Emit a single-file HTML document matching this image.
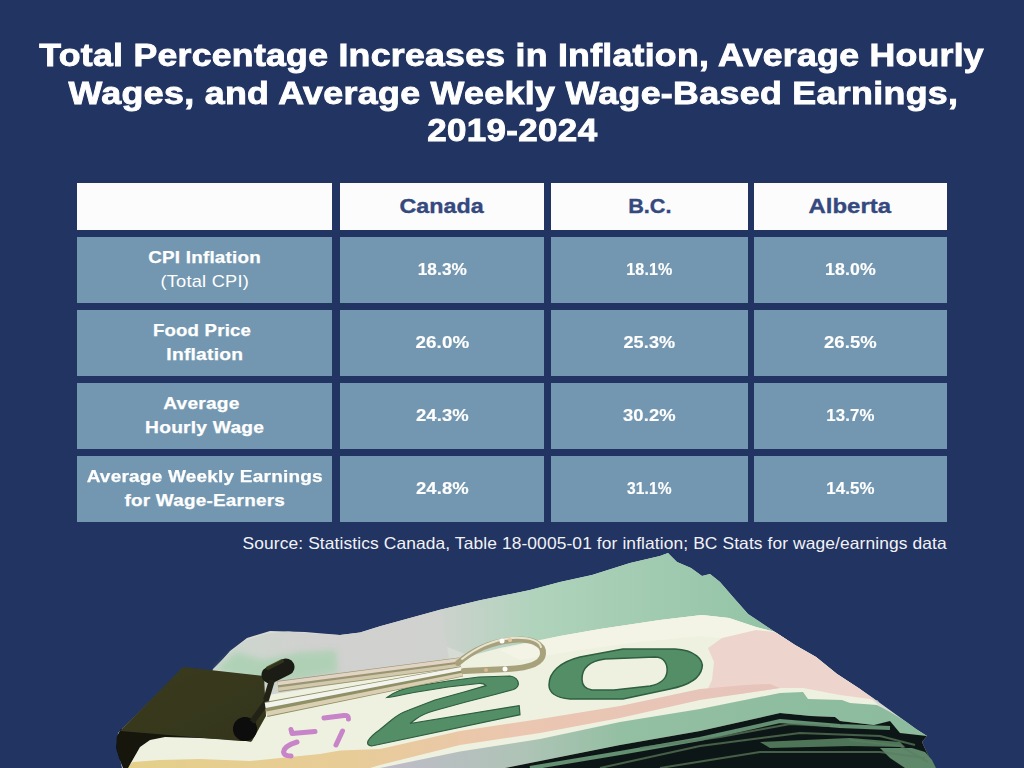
<!DOCTYPE html>
<html><head><meta charset="utf-8">
<style>
html,body{margin:0;padding:0;}
body{width:1024px;height:768px;overflow:hidden;background:#223461;position:relative;font-family:"Liberation Sans",sans-serif;}
.t{position:absolute;left:0;width:1024px;text-align:center;color:#fff;font-weight:700;font-size:32.2px;line-height:38px;white-space:nowrap;-webkit-text-stroke:0.9px #fff;}
.c{position:absolute;background:#7397b0;}
.h{position:absolute;background:#fcfcfc;}
.ht{position:absolute;left:0;right:0;text-align:center;color:#35497e;font-weight:700;font-size:21px;white-space:nowrap;-webkit-text-stroke:0.35px #35497e;}
.lt{position:absolute;left:0;right:0;text-align:center;color:#fff;font-weight:700;font-size:17px;white-space:nowrap;line-height:24px;-webkit-text-stroke:0.25px #fff;letter-spacing:0.2px;}
.v{position:absolute;left:0;right:0;text-align:center;color:#fff;font-weight:700;font-size:17px;white-space:nowrap;line-height:24px;-webkit-text-stroke:0.15px #fff;letter-spacing:0.1px;}
.vs{display:inline-block;}
.src{position:absolute;color:#f2f2f6;font-size:16.5px;white-space:nowrap;letter-spacing:0.1px;}
</style></head><body>
<div class="t" style="top:36px"><span style="display:inline-block;transform:scaleX(1.107);letter-spacing:0.25px">Total Percentage Increases in Inflation, Average Hourly</span></div>
<div class="t" style="top:74px;left:1px"><span style="display:inline-block;transform:scaleX(1.111);letter-spacing:0.3px">Wages, and Average Weekly Wage-Based Earnings,</span></div>
<div class="t" style="top:111px"><span style="display:inline-block;transform:scaleX(1.0865);letter-spacing:0.3px">2019-2024</span></div>

<!-- header row -->
<div class="h" style="left:77px;top:183px;width:255px;height:47px"></div>
<div class="h" style="left:340px;top:183px;width:204px;height:47px"><div class="ht" style="top:11px"><span class="vs" style="transform:translateX(-0.40px) scaleX(1.109)">Canada</span></div></div>
<div class="h" style="left:551px;top:183px;width:197px;height:47px"><div class="ht" style="top:11px"><span class="vs" style="transform:translateX(-0.20px) scaleX(1.032)">B.C.</span></div></div>
<div class="h" style="left:754px;top:183px;width:193px;height:47px"><div class="ht" style="top:11px"><span class="vs" style="transform:translateX(-0.40px) scaleX(1.140)">Alberta</span></div></div>

<!-- row 1 -->
<div class="c" style="left:77px;top:237px;width:255px;height:66px">
  <div class="lt" style="top:9px"><span class="vs" style="transform:translateX(-0.30px) scaleX(1.106)">CPI Inflation</span></div>
  <div class="lt" style="top:33px;font-weight:400;-webkit-text-stroke:0"><span class="vs" style="transform:translateX(0.50px) scaleX(1.073)">(Total CPI)</span></div>
</div>
<div class="c" style="left:340px;top:237px;width:204px;height:66px"><div class="v" style="top:21px"><span class="vs" style="transform:scaleX(1.015)">18.3%</span></div></div>
<div class="c" style="left:551px;top:237px;width:197px;height:66px"><div class="v" style="top:21px"><span class="vs" style="transform:scaleX(0.945)">18.1%</span></div></div>
<div class="c" style="left:754px;top:237px;width:193px;height:66px"><div class="v" style="top:21px"><span class="vs" style="transform:scaleX(1.044)">18.0%</span></div></div>

<!-- row 2 -->
<div class="c" style="left:77px;top:310px;width:255px;height:66px">
  <div class="lt" style="top:9px"><span class="vs" style="transform:translateX(-2.90px) scaleX(1.094)">Food Price</span></div>
  <div class="lt" style="top:33px"><span class="vs" style="transform:translateX(-0.20px) scaleX(1.131)">Inflation</span></div>
</div>
<div class="c" style="left:340px;top:310px;width:204px;height:66px"><div class="v" style="top:21px"><span class="vs" style="transform:scaleX(1.106)">26.0%</span></div></div>
<div class="c" style="left:551px;top:310px;width:197px;height:66px"><div class="v" style="top:21px"><span class="vs" style="transform:scaleX(1.064)">25.3%</span></div></div>
<div class="c" style="left:754px;top:310px;width:193px;height:66px"><div class="v" style="top:21px"><span class="vs" style="transform:scaleX(1.085)">26.5%</span></div></div>

<!-- row 3 -->
<div class="c" style="left:77px;top:383px;width:255px;height:66px">
  <div class="lt" style="top:9px"><span class="vs" style="transform:translateX(-3.50px) scaleX(1.127)">Average</span></div>
  <div class="lt" style="top:33px"><span class="vs" style="transform:translateX(-0.10px) scaleX(1.129)">Hourly Wage</span></div>
</div>
<div class="c" style="left:340px;top:383px;width:204px;height:66px"><div class="v" style="top:21px"><span class="vs" style="transform:scaleX(1.085)">24.3%</span></div></div>
<div class="c" style="left:551px;top:383px;width:197px;height:66px"><div class="v" style="top:21px"><span class="vs" style="transform:scaleX(1.082)">30.2%</span></div></div>
<div class="c" style="left:754px;top:383px;width:193px;height:66px"><div class="v" style="top:21px"><span class="vs" style="transform:scaleX(0.988)">13.7%</span></div></div>

<!-- row 4 -->
<div class="c" style="left:77px;top:456px;width:255px;height:66px">
  <div class="lt" style="top:9px"><span class="vs" style="transform:translateX(0.00px) scaleX(1.117)">Average Weekly Earnings</span></div>
  <div class="lt" style="top:33px"><span class="vs" style="transform:translateX(0.60px) scaleX(1.112)">for Wage-Earners</span></div>
</div>
<div class="c" style="left:340px;top:456px;width:204px;height:66px"><div class="v" style="top:21px"><span class="vs" style="transform:scaleX(1.085)">24.8%</span></div></div>
<div class="c" style="left:551px;top:456px;width:197px;height:66px"><div class="v" style="top:21px"><span class="vs" style="transform:scaleX(0.915)">31.1%</span></div></div>
<div class="c" style="left:754px;top:456px;width:193px;height:66px"><div class="v" style="top:21px"><span class="vs" style="transform:scaleX(0.992)">14.5%</span></div></div>

<div class="src" style="top:534px;left:0;right:0;text-align:center"><span class="vs" style="transform:translateX(82.60px) scaleX(1.054)">Source: Statistics Canada, Table 18-0005-01 for inflation; BC Stats for wage/earnings data</span></div>

<svg style="position:absolute;left:0;top:0" width="1024" height="768" viewBox="0 0 1024 768">
<defs>
<filter id="bl" x="-5%" y="-5%" width="110%" height="110%"><feGaussianBlur stdDeviation="0.7"/></filter>
<filter id="bl3" x="-20%" y="-20%" width="140%" height="140%"><feGaussianBlur stdDeviation="3"/></filter>
<linearGradient id="gtop" x1="0" y1="0" x2="1" y2="0">
<stop offset="0" stop-color="#d0d2cf"/><stop offset="0.3" stop-color="#b0d3bc"/><stop offset="1" stop-color="#92c3a5"/></linearGradient>
<linearGradient id="gleft" x1="0" y1="0" x2="1" y2="0">
<stop offset="0" stop-color="#cbd8cd"/><stop offset="0.45" stop-color="#d1d1cf"/><stop offset="1" stop-color="#d0d2cf"/></linearGradient>
<linearGradient id="sig" gradientUnits="userSpaceOnUse" x1="130" y1="0" x2="770" y2="0">
<stop offset="0" stop-color="#e4cf8a"/><stop offset="0.35" stop-color="#e8cc98"/><stop offset="0.6" stop-color="#ebc6b0"/><stop offset="1" stop-color="#e6c4bc"/></linearGradient>
<linearGradient id="gband" gradientUnits="userSpaceOnUse" x1="400" y1="0" x2="900" y2="0">
<stop offset="0" stop-color="#bdbcc6"/><stop offset="0.25" stop-color="#aec4b6"/><stop offset="0.45" stop-color="#93bfa2"/><stop offset="1" stop-color="#8cbb9d"/></linearGradient>
<linearGradient id="clipg" x1="0" y1="0" x2="1" y2="1">
<stop offset="0" stop-color="#3a3b1e"/><stop offset="1" stop-color="#34351b"/></linearGradient>
<linearGradient id="wire" x1="0" y1="0" x2="0" y2="1">
<stop offset="0" stop-color="#f4f4ec"/><stop offset="0.5" stop-color="#d8d4c0"/><stop offset="1" stop-color="#9a9670"/></linearGradient>
</defs>
<g filter="url(#bl)">
<!-- base fill -->
<path fill="#d6dbd4" d="M122,768 L117,745 L118,733 L184,668 L212,672 L230,651 L247,638 L270,631 L305,632 L340,635 L360,632.4 L380,626.2 L400,620.8 L420,615.3 L440,609.8 L460,605 L480,600.3 L530,590 L560,582 L592,575 L630,563 L660,556 L668,553 L677,562 L691,568 L702,576 L710,574 L720,582 L733,597 L748,614 L760,622 L775,632 L795,645 L816,657 L837,674 L860,689 L880,703 L905,721 L916,729 L927,736 L922,742 L928,755 L935,768 Z"/>
<!-- top green bills -->
<path fill="url(#gtop)" d="M430,640 L440,609.8 L460,605 L480,600.3 L530,590 L560,582 L592,575 L630,563 L660,556 L668,553 L677,562 L691,568 L702,576 L710,574 L720,582 L733,597 L748,614 L760,622 L775,632 L756,627 L729,618 L702,615 L660,620 L600,629 L560,636 L500,648 L470,656 Z"/>
<!-- top-left bill -->
<path fill="url(#gleft)" d="M200,705 L213,669 L229,653 L244,641 L266,634 L288,631.5 L317,634 L340,635 L360,632.4 L380,626.2 L400,620.8 L420,615.3 L440,609.8 L446,640 L450,664 L400,678 L300,700 L270,725 Z"/>
<!-- faint green print on top-left bill -->
<path fill="#a6d0ae" opacity="0.75" filter="url(#bl3)" d="M216,670 L236,652 L262,660 L300,652 L336,650 L338,672 L300,680 L262,682 Z"/>
<!-- main bill face -->
<path fill="#eef1df" d="M124,768 L140,746 L150,739 L165,736.5 L200,737.5 L250,740 L262,712 L268,695 L300,690 L400,674 L470,656 L500,648 L560,636 L600,629 L660,620 L702,615 L729,618 L756,627 L775,632 L795,645 L816,657 L837,674 L860,689 L883,709 L895,716 L880,740 L700,768 Z"/>
<!-- cream strip top -->
<path fill="#f4f4e6" d="M500,650 L560,636 L600,629 L660,620 L702,615 L729,618 L756,627 L775,632 L790,642 L740,640 L700,636 L640,642 L580,650 L520,660 Z"/>
<!-- pink region right of 0 -->
<path fill="#edd5cd" d="M708,648 L722,638 L756,630 L775,632 L795,645 L816,657 L837,674 L860,689 L880,703 L877,700 L840,695 L803,688 L780,688 L740,694 L704,697 L712,680 L714,662 Z"/>
<!-- signature band (yellow to pink) -->
<path fill="url(#sig)" d="M126,768 L133,762 L160,760 L200,759 L250,761 L290,757 L320,754 L340,750.5 L380,749 L460,731 L540,719 L620,706 L700,689 L745,685 L770,684 L780,688 L740,694 L700,700 L620,718 L540,733 L460,745 L380,765 L370,768 Z"/>
<!-- green band -->
<path fill="url(#gband)" d="M380,768 L460,751.5 L540,739 L620,722 L700,709 L780,693 L803,692 L808,699 L842,700 L850,703 L877,705 L890,712 L905,721 L916,729 L927,736 L923,739 L917,744 L895,740 L880,730 L874,725 L840,721 L835,717 L811,716 L780,713 L700,731 L620,745 L585,752 L560,757 L505,768 Z"/>
<!-- dark stack -->
<path fill="#111812" d="M505,768 L560,757 L585,752 L620,745 L700,731 L780,713 L811,716 L835,717 L840,721 L874,725 L890,721 L900,733 L927,736 L922,742 L928,755 L936,768 Z"/>
<path fill="#5e876a" d="M880,748 L912,748 L925,752 L932,760 L936,768 L905,768 L890,758 Z"/>
<path fill="#4f7558" d="M760,742 L850,738 L900,742 L905,747 L850,746 L770,748 Z"/>
<!-- stack stripes -->
<path fill="none" stroke="#6e9c7e" stroke-width="4" opacity="0.9" d="M530,768 L560,763 L620,753 L700,739 L780,721 L840,726 L890,728"/>
<path fill="none" stroke="#5a7d62" stroke-width="2" opacity="0.7" d="M600,768 L700,746 L800,733 L880,736 L915,745 M660,768 L760,752 L880,752 L925,758 M640,748 L720,737 L790,724 L830,726 M850,740 L900,746 L928,762"/>

</g>
<g filter="url(#bl)">
<!-- numeral 0 -->
<path fill="#528e66" stroke="#2f5e40" stroke-width="1.5" fill-rule="evenodd" d="M549,685 C549,672 560,662 580,657 L623,649 L675,649 C695,650 704,660 702,668 C700,678 690,685 670,689 L623,699 L570,699 C555,698 549,692 549,685 Z M582,679 C582,668 590,661 605,659 L655,657 C664,657 668,664 667,672 C666,680 660,684 650,686 L614,690 L592,690 C585,689 582,685 582,679 Z"/>
<!-- numeral 2 -->
<path fill="#528e66" stroke="#2f5e40" stroke-width="1.2" d="M387,697.5 C395,691 405,688 417,686 L448,681 L479,677 L510,676 C515,676.5 518.4,680 518.4,684 C518,687 516,688.5 513.5,689.5 L495,694.5 L464,702.5 L435,710.5 C426,713 420,716 416,719 L410,723.5 L519.2,705.6 L520,714.7 L371.7,746 C368,745.5 367,744 368,741 C371,736 375,733 379.4,730 L390.3,721 C396,716 402,712.5 409,710 L435,700 L464,692 L486,685.6 C484,683.5 482,683.3 479,683.5 L448,687 L417,692 C404,694 395,697 387,697.5 Z"/>
<!-- purple marks -->
<path fill="none" stroke="#c884c8" stroke-width="5" stroke-linecap="round" stroke-linejoin="round" d="M324,718 L344,715.5 Q349,715 348.5,719 M291,729.5 L292,733.5 L315,731.5 M342.5,731 L336,745 M297,742 Q284,746 283.5,752 Q284,756 291,756"/>
</g>
<g filter="url(#bl)">
<!-- binder clip fold (black) -->
<path fill="#121310" d="M121,729 L240,740 L252,742 L250,740.5 L200,738 L165,737 L150,740 L140,747 L128,768 L123,768 L119,758 L116,748 L117,736 Z"/>
<!-- binder clip top face -->
<path fill="url(#clipg)" d="M183,667 L264,676 L266,716 L252,741 L240,741 L120,731 Z"/>
<!-- barrel bottom -->
<ellipse cx="245" cy="729" rx="12" ry="12" fill="#0b0b09"/>
<path stroke="#222218" stroke-width="6" d="M252,722 L268,700"/>
<!-- barrel top -->
<path stroke="#1a1c12" stroke-width="17" stroke-linecap="round" d="M270,675 L286,667"/>
<path stroke="#3a3c22" stroke-width="4" stroke-linecap="round" opacity="0.8" d="M268,668 L282,661"/>
<path stroke="#222218" stroke-width="6" d="M266,700 L272,680"/>
<!-- wires upper pair -->
<path fill="#9a9572" d="M277.3,681.0 L459.3,657.5 L460.7,667.5 L278.7,692.0 Z"/>
<path fill="#e2d4c4" d="M277.4,681.7 L459.4,658.0 L459.9,661.4 L277.8,685.3 Z"/>
<path fill="#d2c8ac" d="M278.1,687.5 L460.1,663.4 L460.6,666.8 L278.6,691.1 Z"/>
<!-- wires lower pair -->
<path fill="#8f9066" d="M264.6,702.1 L461.0,666.6 L463.0,676.4 L267.4,716.9 Z"/>
<path fill="#f4f4ee" d="M264.8,703.1 L461.1,667.0 L461.8,670.5 L265.7,708.0 Z"/>
<path fill="#dacfb2" d="M266.4,711.5 L462.2,672.8 L462.9,675.9 L267.2,715.9 Z"/>
<!-- loop -->
<path fill="none" stroke="#a8a27c" stroke-width="6" stroke-linecap="round" d="M458,663 C472,651 490,642 512,640 C532,638 544,644 543,654 C542,664 528,668 508,669 L464,671"/>
<path fill="none" stroke="#e8e4d2" stroke-width="2" stroke-linecap="round" d="M462,659 C476,648 492,640 512,638 C530,637 540,641 541,647"/>
<circle cx="502" cy="641" r="2.5" fill="#fff"/><circle cx="510" cy="640" r="2" fill="#e8c8a0"/>
<circle cx="505" cy="669" r="2.5" fill="#fff"/><circle cx="486" cy="670" r="2" fill="#d8b890"/>
</g>
</svg>

</body></html>
